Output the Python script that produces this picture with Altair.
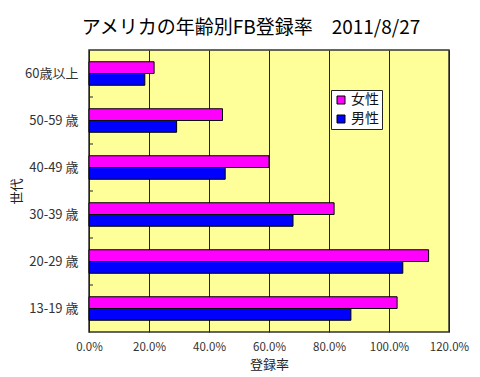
import altair as alt
import pandas as pd

ages = ["60歳以上", "50-59 歳", "40-49 歳", "30-39 歳", "20-29 歳", "13-19 歳"]
female = [0.217, 0.445, 0.600, 0.817, 1.132, 1.027]
male = [0.186, 0.292, 0.454, 0.680, 1.046, 0.873]
sexes = ["女性", "男性"]
colors = ["#FF00FF", "#0000FF"]
x_ticks = [0, 0.2, 0.4, 0.6, 0.8, 1.0, 1.2]

rows = []
for a, f, m in zip(ages, female, male):
    rows.append({"age": a, "sex": "女性", "rate": f})
    rows.append({"age": a, "sex": "男性", "rate": m})
df = pd.DataFrame(rows)
tick_df = pd.DataFrame({"age": ages[:-1]})

FONT = "Noto Sans CJK JP"

yscale = alt.Scale(domain=ages, paddingInner=0.5, paddingOuter=0.25)

bars = alt.Chart(df).mark_bar(stroke="black", strokeWidth=1).encode(
    x=alt.X("rate:Q", scale=alt.Scale(domain=[0, 1.2], nice=False),
            axis=alt.Axis(values=x_ticks, format=".1%", title="登録率",
                          grid=True, gridColor="#222", gridWidth=1,
                          domain=False, ticks=False, labelPadding=9,
                          labelFlush=False, labelOverlap=False,
                          labelFontSize=11.5, labelColor="#333",
                          titleFontSize=13, titleFontWeight="normal",
                          titlePadding=6, labelFont=FONT, titleFont=FONT,
                          titleColor="#222")),
    y=alt.Y("age:N", scale=yscale, sort=ages,
            axis=alt.Axis(title="世代", domain=False, ticks=False,
                          labelPadding=11, labelFontSize=13, labelColor="#333",
                          titleFontSize=13, titleFontWeight="normal",
                          titlePadding=1, labelFont=FONT, titleFont=FONT,
                          titleColor="#222")),
    yOffset=alt.YOffset("sex:N", sort=sexes, scale=alt.Scale(paddingInner=0, paddingOuter=0)),
    color=alt.Color("sex:N", sort=sexes,
                    scale=alt.Scale(domain=sexes, range=colors),
                    legend=alt.Legend(title=None, orient="none", legendX=242, legendY=40,
                                      fillColor="white", strokeColor="#222",
                                      padding=3, symbolType="square", symbolSize=64,
                                      symbolStrokeColor="black", symbolStrokeWidth=1,
                                      labelFontSize=14, labelFont=FONT, labelColor="#111",
                                      rowPadding=5, labelOffset=3)),
)

ticks = alt.Chart(tick_df).mark_rule(color="#222", strokeWidth=1, yOffset=11.75).encode(
    x=alt.value(0), x2=alt.value(4),
    y=alt.Y("age:N", scale=yscale, sort=ages, bandPosition=1),
)

chart = alt.layer(bars, ticks).properties(
    width=360, height=282,
    autosize=alt.AutoSizeParams(type="none"),
    padding={"left": 81, "top": 42, "right": 23, "bottom": 44},
    title=alt.TitleParams("アメリカの年齢別FB登録率\u30002011/8/27", fontSize=19,
                          font=FONT, fontWeight="normal", anchor="middle",
                          frame="group", dx=-18, offset=12, color="black"),
).configure_view(fill="#FFFF99", stroke="#333", strokeWidth=1.5)

chart.save("out.html", embed_options={"renderer": "svg", "actions": False})
